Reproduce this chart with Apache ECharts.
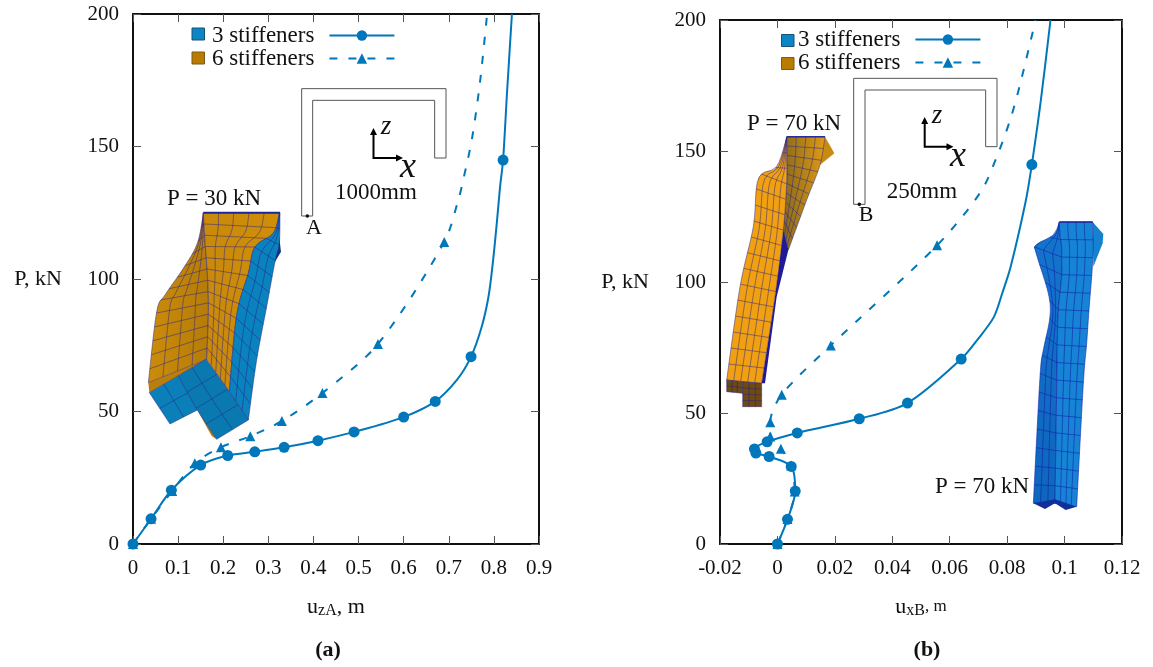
<!DOCTYPE html>
<html><head><meta charset="utf-8">
<style>html,body{margin:0;padding:0;background:#fff}#c{width:1153px;height:667px}</style>
<script src="https://cdn.jsdelivr.net/npm/echarts@6/dist/echarts.min.js"></script>
</head><body><div id="c"></div>
<script>
// ---- data: [displacement, P] ----
const seriesNames = ['3 stiffeners', '6 stiffeners'];
const uzA3Marked = [[0,0],[0.04,9.5],[0.085,20.3],[0.15,29.8],[0.21,33.4],[0.27,34.8],[0.335,36.5],[0.41,39],[0.49,42.3],[0.6,47.9],[0.67,53.8],[0.7494,70.7],[0.8204,144.9]];
const uzA3Curve = [[0.718,61.9],[0.773,82],[0.788,93.3],[0.7975,105.9],[0.8064,121],[0.8137,134.8],[0.829,170],[0.84,200]];
const uzA6Marked = [[0,0],[0.04,9.5],[0.087,20],[0.137,30.5],[0.195,36.5],[0.26,40.7],[0.33,46.4],[0.42,57],[0.543,75.5],[0.69,114]];
const uzA6Curve = [[0.723,131],[0.732,137.4],[0.751,152.5],[0.769,174],[0.785,200]];
const uxB3Marked = [[0,0],[0.0035,9.4],[0.0062,20.2],[0.0048,29.6],[-0.0029,33.4],[-0.0075,34.7],[-0.008,36.3],[-0.0036,39],[0.0069,42.4],[0.0285,47.8],[0.0453,53.8],[0.064,70.6],[0.0886,144.8]];
const uxB3Curve = [[0.0701,78.6],[0.0754,86.7],[0.0783,95.7],[0.0812,105.7],[0.0865,131],[0.0917,169],[0.0951,200]];
const uxB6Marked = [[0,0],[0.0035,9.5],[0.006,20],[0.0048,30],[0.0012,36.4],[-0.0025,41],[-0.0025,46.5],[0.0015,57],[0.0186,75.8],[0.0556,114]];
const uxB6Curve = [[0.0708,134.4],[0.0766,148.4],[0.0812,162.4],[0.0847,176.3],[0.0899,200]];
const xTicksA = [0,0.1,0.2,0.3,0.4,0.5,0.6,0.7,0.8,0.9];
const xTicksB = [-0.02,0,0.02,0.04,0.06,0.08,0.1,0.12];
const yTicks = [0,50,100,150,200];

const SERIF = '"Liberation Serif","Times New Roman",serif';
const LINE = '#0077bb';

function merged(marked, curve) {
  const all = marked.map(v => ({value:v})).concat(curve.map(v => ({value:v, symbol:'none'})));
  return all.sort((a,b) => a.value[1]-b.value[1]);
}
function curveSeries(name, marked, curve, idx, dashed) {
  return {
    name, type:'line', xAxisIndex:idx, yAxisIndex:idx, smooth:0.3,
    showSymbol:true, showAllSymbol:true, symbol: dashed ? 'triangle' : 'circle',
    symbolSize: dashed ? 10 : 11,
    lineStyle:{color:LINE, width:2, type: dashed ? [8,11] : 'solid'},
    itemStyle:{color:LINE}, z: dashed ? 3 : 4,
    data: merged(marked, curve), animation:false
  };
}
function xAxes(name, rich, interval, min, max, grid) {
  const base = {type:'value', gridIndex:grid, min, max, interval,
    axisLine:{show:true, onZero:false, lineStyle:{color:'#111', width:2}},
    axisTick:{show:true, inside:true, length:8, lineStyle:{color:'#555', width:1}},
    splitLine:{show:false}};
  return [
    Object.assign({}, base, {position:'bottom', name, nameLocation:'middle', nameGap:51,
      nameTextStyle:{fontFamily:SERIF, color:'#111', rich},
      axisLabel:{fontFamily:SERIF, fontSize:21, color:'#111', margin:14,
        formatter:v => String(+v.toFixed(2))}}),
    Object.assign({}, base, {position:'top', axisLabel:{show:false}})
  ];
}
function yAxes(grid) {
  const base = {type:'value', gridIndex:grid, min:yTicks[0], max:yTicks[yTicks.length-1], interval:50,
    axisLine:{show:true, onZero:false, lineStyle:{color:'#111', width:2}},
    axisTick:{show:true, inside:true, length:8, lineStyle:{color:'#555', width:1}},
    splitLine:{show:false}};
  return [
    Object.assign({}, base, {position:'left', name:'P, kN', nameLocation:'middle', nameRotate:0, nameGap:71,
      nameTextStyle:{fontFamily:SERIF, fontSize:22, color:'#111'},
      axisLabel:{fontFamily:SERIF, fontSize:21, color:'#111', margin:14}}),
    Object.assign({}, base, {position:'right', axisLabel:{show:false}})
  ];
}

// ---- illustrations (not data) ----
const g = [];
const Z = 1;
function poly(pts, fill, stroke, lw) {
  g.push({type:'polygon', z:Z, silent:true, shape:{points:pts},
    style:{fill:fill||'none', stroke:stroke||'none', lineWidth:lw||0}});
}
function pline(pts, stroke, lw, z) {
  g.push({type:'polyline', z:z||Z, silent:true, shape:{points:pts},
    style:{fill:'none', stroke, lineWidth:lw}});
}
function lerp(p,q,u){return [p[0]+(q[0]-p[0])*u, p[1]+(q[1]-p[1])*u];}
// Catmull-Rom refinement of an outline edge, so outlines read as curves
function refine(e){
  if(e.length<3) return e;
  const out=[];
  for(let i=0;i<e.length-1;i++){
    const p0=e[Math.max(i-1,0)],p1=e[i],p2=e[i+1],p3=e[Math.min(i+2,e.length-1)];
    for(let k=0;k<6;k++){
      const t=k/6,t2=t*t,t3=t2*t;
      out.push([0,1].map(d=>0.5*(2*p1[d]+(p2[d]-p0[d])*t+(2*p0[d]-5*p1[d]+4*p2[d]-p3[d])*t2+(3*p1[d]-p0[d]-3*p2[d]+p3[d])*t3)));
    }
  }
  out.push(e[e.length-1]);
  return out;
}
function along(edge,t){
  let tot=0; const seg=[];
  for(let i=0;i<edge.length-1;i++){const d=Math.hypot(edge[i+1][0]-edge[i][0],edge[i+1][1]-edge[i][1]);seg.push(d);tot+=d;}
  let s=t*tot;
  for(let i=0;i<seg.length;i++){ if(s<=seg[i]||i===seg.length-1) return lerp(edge[i],edge[i+1],seg[i]?Math.min(1,s/seg[i]):0); s-=seg[i]; }
}
function grad(c1,c2,horizontal){
  return {type:'linear',x:0,y:0,x2:horizontal?1:0,y2:horizontal?0:1,
    colorStops:[{offset:0,color:c1},{offset:1,color:c2}]};
}
function face(a0,b0,nLong,nTrans,fill,mesh,lw){
  const a=refine(a0), b=refine(b0);
  poly(a.concat(b.slice().reverse()),fill);
  const n=40, rowsA=[],rowsB=[];
  for(let k=0;k<=n;k++){rowsA.push(along(a,k/n));rowsB.push(along(b,k/n));}
  for(let i=0;i<=nLong;i++){
    const u=i/nLong;
    pline(rowsA.map((p,k)=>lerp(p,rowsB[k],u)),mesh,lw||0.8);
  }
  for(let j=0;j<=nTrans;j++){
    const t=j/nTrans, pa=along(a,t), pb=along(b,t), seg=[];
    for(let i=0;i<=nLong;i++) seg.push(lerp(pa,pb,i/nLong));
    pline(seg,mesh,lw||0.8);
  }
}
const L = a => a.map(p => [120+p[0]/3, 200+p[1]/3]);
const LT = a => a.map(p => [120+p[0]/3, p[1]/3]);
const R = a => a.map(p => [720+p[0]/3, 10+p[1]/3]);
const B = a => a.map(p => [920+p[0]/3, 210+p[1]/3]);
const mesh = 'rgba(35,30,140,0.6)';

// left deformed shape, P = 30 kN
const lFold = [[260,478],[265,345],[264,260],[260,190],[254,110],[250,38]];
poly(L([[85,548],[260,478],[88,578]]),'#b97f08');
poly(L([[232,630],[275,708],[290,718]]),'#b97f08');
face(L([[85,548],[110,335],[135,285],[190,205],[232,130],[250,40]]),L(lFold),4,13,grad('#cc8c08','#b57c08',true),mesh);
const lEdge = [[328,575],[350,345],[385,220],[405,140],[460,100],[478,40]];
face(L(lFold),L(lEdge),5,13,grad('#c9890a','#d08e08',true),mesh);
poly(L([[475,90],[483,155],[465,185],[458,120]]),'#15307f');
face(L(lEdge),L([[385,660],[410,480],[440,320],[465,185],[478,130],[480,38]]),3,13,'#0a82bd',mesh);
face(L([[88,578],[150,672]]),L([[175,527],[232,630]]),2,2,'#0a7fb8',mesh);
face(L([[175,527],[232,630],[290,718]]),L([[258,478],[320,565],[385,660]]),2,4,'#0a79b0',mesh);
pline(L([[250,38],[480,38]]),'#1a2a9a',2);

// right deformed shape, orange
poly(R([[315,380],[343,430],[300,465],[305,420]]),'#c98a12');
face(R([[190,660],[200,520],[200,440],[200,380]]),R([[205,720],[260,570],[300,465],[315,380]]),4,10,grad('#8a6a1c','#e09a14',true),mesh);
poly(R([[190,660],[205,720],[170,860],[135,1120],[125,1120],[165,860]]),'#1e1a98');
face(R([[20,1110],[60,830],[100,650],[115,505],[170,470],[200,382]]),R([[125,1120],[165,860],[190,660],[200,520],[200,440],[200,382]]),5,16,'#f0a010',mesh);
face(R([[20,1110],[20,1145]]),R([[68,1115],[68,1150]]),3,2,'#6d4a12',mesh);
face(R([[68,1115],[68,1190]]),R([[125,1120],[125,1190]]),3,4,'#6d4a12',mesh);
pline(R([[200,380],[315,380]]),'#2a2a9a',1.5);

// right deformed shape, blue
poly(B([[518,36],[550,72],[548,100],[520,170]]),'#1482cf');
const bMesh = 'rgba(15,30,170,0.7)';
const bFold = [[405,880],[410,540],[412,400],[415,300],[425,200],[425,150],[425,110],[420,75],[418,36]];
face(B([[340,880],[360,500],[370,420],[390,320],[385,250],[350,135],[347,105],[400,75],[418,36]]),B(bFold),3,16,grad('#1474cc','#0f66bd',false),bMesh);
face(B(bFold),B([[470,890],[490,520],[500,400],[507,300],[515,200],[518,150],[520,110],[518,60],[518,36]]),4,16,'#1783d4',bMesh);
poly(B([[340,880],[375,897],[405,880],[437,900],[470,890],[405,868]]),'#12309a');
pline(B([[418,36],[518,36]]),'#1a2a9a',1.5);

// cross sections
pline(LT([[545,648],[545,266],[978,266],[978,474],[944,474],[944,301],[578,301],[578,648],[545,648]]),'#555',1);
pline(R([[401,583],[401,205],[831,205],[831,410],[797,410],[797,240],[435,240],[435,583],[401,583]]),'#555',1);
function dot(p){g.push({type:'circle',z:Z,silent:true,shape:{cx:p[0],cy:p[1],r:1.8},style:{fill:'#111'}});}
dot(LT([[562,648]])[0]); dot(R([[418,583]])[0]);

function triad(ox,oy,tx,ty){
  pline([[ox,ty+4],[ox,oy],[tx-4,oy]],'#000',2);
  poly([[ox,ty],[ox-3.5,ty+7],[ox+3.5,ty+7]],'#000');
  poly([[tx,oy],[tx-7,oy-3.5],[tx-7,oy+3.5]],'#000');
}
triad(373.5,158,403,128);
triad(924.7,146.7,953.5,117);

function text(s,x,y,size,extra){
  g.push({type:'text',z:5,silent:true,x,y,style:Object.assign({text:s,fontFamily:SERIF,fontSize:size,fill:'#111',
    textAlign:'center',textVerticalAlign:'middle'},extra||{})});
}
text('P = 30 kN',214,199,23);
text('A',314,228,22);
text('1000mm',376,193,23);
text('z',386,127,27,{fontStyle:'italic'});
text('x',408,168,36,{fontStyle:'italic'});
text('P = 70 kN',794,124,23);
text('B',866,215,22);
text('250mm',922,192,23);
text('z',937,116,27,{fontStyle:'italic'});
text('x',958,157,36,{fontStyle:'italic'});
text('P = 70 kN',982,487,23);
text('(a)',328,650,22,{fontWeight:'bold'});
text('(b)',927,650,22,{fontWeight:'bold'});

// legend material swatches
function swatch(x,y,c1,c2){
  g.push({type:'rect',z:5,silent:true,shape:{x,y,width:12.5,height:12},style:{fill:c1,stroke:c2,lineWidth:1}});
}
swatch(192,28,'#0a86c4','#1a4f7a'); swatch(192,52,'#b97b00','#7a5a20');
swatch(781.5,34.5,'#0a86c4','#1a4f7a'); swatch(781.5,57.5,'#b97b00','#7a5a20');

const legendBase = {orient:'vertical', align:'right', itemWidth:65, itemHeight:13, itemGap:0,
  data:seriesNames, selectedMode:false, padding:0,
  textStyle:{fontFamily:SERIF, fontSize:23, color:'#111', padding:[0,10,0,0]}};

const chart = echarts.init(document.getElementById('c'), null, {renderer:'canvas'});
chart.setOption({
  animation:false,
  backgroundColor:'#fff',
  grid:[
    {left:133, top:14, width:406, height:530},
    {left:720, top:20, width:402, height:524}
  ],
  xAxis:[
    ...xAxes('{u|u}{s|zA}{u|, m}', {u:{fontFamily:SERIF,fontSize:22,color:'#111'},s:{fontFamily:SERIF,fontSize:16,color:'#111',padding:[8,0,0,0]}}, 0.1, 0, 0.9, 0),
    ...xAxes('{u|u}{s|xB}{v|, m}', {u:{fontFamily:SERIF,fontSize:22,color:'#111'},s:{fontFamily:SERIF,fontSize:16,color:'#111',padding:[8,0,0,0]},v:{fontFamily:SERIF,fontSize:17,color:'#111'}}, 0.02, -0.02, 0.12, 1)
  ],
  yAxis:[...yAxes(0), ...yAxes(1)],
  legend:[
    Object.assign({}, legendBase, {left:212, top:24}),
    Object.assign({}, legendBase, {left:798, top:28})
  ],
  series:[
    curveSeries(seriesNames[0], uzA3Marked, uzA3Curve, 0, false),
    curveSeries(seriesNames[1], uzA6Marked, uzA6Curve, 0, true),
    curveSeries(seriesNames[0], uxB3Marked, uxB3Curve, 2, false),
    curveSeries(seriesNames[1], uxB6Marked, uxB6Curve, 2, true)
  ],
  graphic:{elements:g}
});
</script></body></html>
